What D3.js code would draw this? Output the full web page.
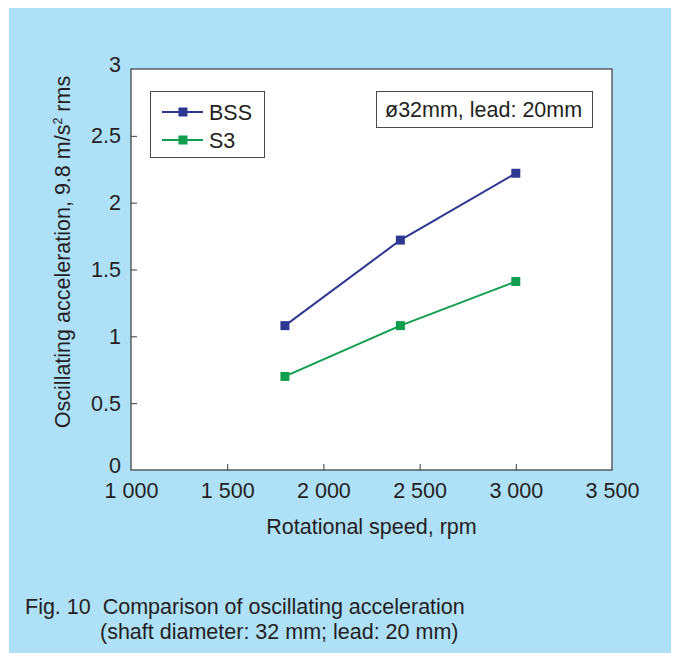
<!DOCTYPE html>
<html><head><meta charset="utf-8">
<script src="https://cdn.jsdelivr.net/npm/d3@7"></script>
<style>
html,body{margin:0;padding:0;background:#fff;}
svg{display:block;}
text{font-family:"Liberation Sans",Arial,sans-serif;fill:#231f20;}
</style></head>
<body>
<svg id="c" width="676" height="653"></svg>
<script>
const speeds = [1800, 2400, 3000];
const bssValues = [1.08, 1.72, 2.22];
const s3Values = [0.70, 1.08, 1.41];
const seriesNames = ["BSS", "S3"];
const xTicks = [1000, 1500, 2000, 2500, 3000, 3500];
const yTicks = [0, 0.5, 1, 1.5, 2, 2.5, 3];
const xTitle = "Rotational speed, rpm";
const annotation = "\u00f832mm, lead: 20mm";
const caption1 = "Fig. 10\u00a0\u00a0Comparison of oscillating acceleration";
const caption2 = "(shaft diameter: 32 mm; lead: 20 mm)";

const FS = 21.5;
const colors = {BSS: "#2e3892", S3: "#0f9e4e"};
const svg = d3.select("#c");
svg.append("rect").attr("x", 9).attr("y", 8).attr("width", 662).attr("height", 645).attr("fill", "#aee0f8");

const L = 131, R = 612, T = 69, B = 470;
const x = d3.scaleLinear().domain([1000, 3500]).range([L, R]);
const y = d3.scaleLinear().domain([0, 3]).range([B, T]);

svg.append("rect").attr("x", L).attr("y", T).attr("width", R - L).attr("height", B - T)
  .attr("fill", "#fff").attr("stroke", "#3a3a3a").attr("stroke-width", 1.2);

const xAxis = svg.append("g").attr("transform", `translate(0,${B})`)
  .call(d3.axisBottom(x).tickValues(xTicks).tickSizeInner(-6).tickSizeOuter(0).tickPadding(13)
    .tickFormat(d => d3.format(",")(d).replace(",", " ")));
xAxis.select(".domain").remove();
xAxis.selectAll(".tick line").attr("stroke", "#3a3a3a")
  .attr("display", d => (d === 1000 || d === 3500) ? "none" : null);
xAxis.selectAll("text").attr("font-size", FS).attr("fill", "#231f20").attr("font-family", "Liberation Sans, Arial, sans-serif");

const yAxis = svg.append("g").attr("transform", `translate(${L},0)`)
  .call(d3.axisLeft(y).tickValues(yTicks).tickSizeInner(-6).tickSizeOuter(0).tickPadding(10)
    .tickFormat(d => String(d)));
yAxis.select(".domain").remove();
yAxis.selectAll(".tick line").attr("stroke", "#3a3a3a")
  .attr("display", d => (d === 0 || d === 3) ? "none" : null);
yAxis.selectAll("text").attr("font-size", FS).attr("fill", "#231f20").attr("font-family", "Liberation Sans, Arial, sans-serif")
  .attr("dy", d => (d === 3 || d === 0) ? "0.1em" : "0.32em");

svg.append("text").attr("x", (L + R) / 2).attr("y", 534).attr("text-anchor", "middle")
  .attr("font-size", FS).text(xTitle);

const yt = svg.append("text").attr("transform", "translate(70,252) rotate(-90)")
  .attr("text-anchor", "middle").attr("font-size", FS);
yt.append("tspan").text("Oscillating acceleration, 9.8 m/s");
yt.append("tspan").attr("font-size", 12.5).attr("dy", -8).text("2");
yt.append("tspan").attr("dy", 8).text(" rms");

const data = [bssValues, s3Values];
const line = d3.line().x((d, i) => x(speeds[i])).y(d => y(d));
seriesNames.forEach((name, k) => {
  svg.append("path").datum(data[k]).attr("d", line).attr("fill", "none")
    .attr("stroke", colors[name]).attr("stroke-width", 2);
  svg.selectAll(null).data(data[k]).enter().append("rect")
    .attr("x", (d, i) => x(speeds[i]) - 4.5).attr("y", d => y(d) - 4.5)
    .attr("width", 9).attr("height", 9).attr("fill", colors[name]);
});

// legend
svg.append("rect").attr("x", 150.5).attr("y", 91.5).attr("width", 114).attr("height", 66)
  .attr("fill", "#fff").attr("stroke", "#4a4a4a").attr("stroke-width", 1);
seriesNames.forEach((name, k) => {
  const cy = 112 + k * 28;
  svg.append("line").attr("x1", 162).attr("x2", 203).attr("y1", cy).attr("y2", cy)
    .attr("stroke", colors[name]).attr("stroke-width", 2);
  svg.append("rect").attr("x", 178.5).attr("y", cy - 4.5).attr("width", 9).attr("height", 9).attr("fill", colors[name]);
  svg.append("text").attr("x", 209).attr("y", cy).attr("dy", "0.36em").attr("font-size", FS).text(name);
});

// annotation box
svg.append("rect").attr("x", 376.5).attr("y", 91.5).attr("width", 216).attr("height", 36)
  .attr("fill", "#fff").attr("stroke", "#4a4a4a").attr("stroke-width", 1);
svg.append("text").attr("x", 385).attr("y", 109.5).attr("dy", "0.36em").attr("font-size", FS).text(annotation);

svg.append("text").attr("x", 25).attr("y", 614).attr("font-size", FS).text(caption1);
svg.append("text").attr("x", 100).attr("y", 639).attr("font-size", FS).text(caption2);
</script>
</body></html>
